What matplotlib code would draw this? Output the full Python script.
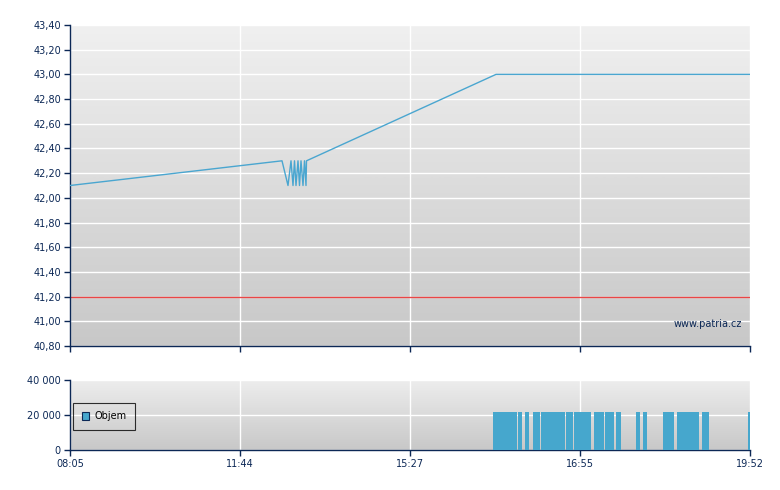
import numpy as np
import matplotlib
matplotlib.use("Agg")
import matplotlib.pyplot as plt
from matplotlib.patches import Rectangle

plt.rcParams['font.family'] = ['DejaVu Sans']

# ---- data (x in session index units) ----
tick_pos = [0, 170, 340, 510, 680]
tick_labels = ["08:05", "11:44", "15:27", "16:55", "19:52"]

price_x = [0, 212, 218, 221, 223, 224.5, 226, 228, 229.5, 231, 233, 234.5, 236, 236.5, 426, 680]
price_y = [42.10, 42.30, 42.10, 42.30, 42.10, 42.30, 42.10, 42.30, 42.10, 42.30, 42.10, 42.30,
           42.10, 42.30, 43.00, 43.00]
ref_price = 41.20

vol_start = [423, 448, 455, 463, 471, 496, 504, 524, 535, 546, 566, 573, 593, 607, 632, 678]
vol_end   = [447, 452, 459, 470, 495, 503, 521, 534, 544, 551, 570, 577, 604, 629, 639, 680]
vol_vals  = [22000] * 16

price_ticks = [40.80, 41.00, 41.20, 41.40, 41.60, 41.80, 42.00, 42.20, 42.40, 42.60,
               42.80, 43.00, 43.20, 43.40]
vol_ticks = [0, 20000, 40000]

NAVY = "#0c2856"
LINE = "#4aa6d0"
BAR = "#46a7cd"
FS = 7

fig = plt.figure(figsize=(7.8, 4.9), dpi=100)
ax = fig.add_axes([70/780, 1-346/490, 680/780, 321/490])
axv = fig.add_axes([70/780, 1-450/490, 680/780, 70/490])

def gradient(a, top, bottom):
    grad = np.linspace(0, 1, 256).reshape(-1, 1)
    c1 = np.array(matplotlib.colors.to_rgb(top))
    c2 = np.array(matplotlib.colors.to_rgb(bottom))
    img = c1[None, None, :] * (1 - grad[..., None]) + c2[None, None, :] * grad[..., None]
    a.imshow(img, extent=[0, 1, 0, 1], transform=a.transAxes, aspect='auto', zorder=0,
             interpolation='bicubic')

for a in (ax, axv):
    a.set_xlim(tick_pos[0], tick_pos[-1])
    for s in ('top', 'right'):
        a.spines[s].set_visible(False)
    for s in ('left', 'bottom'):
        a.spines[s].set_color(NAVY)
        a.spines[s].set_linewidth(1.0)
    a.tick_params(colors=NAVY, labelcolor=NAVY, labelsize=FS, length=4, width=1, direction='out',
                  pad=2.5)
    a.set_xticks(tick_pos)
    a.grid(True, color='white', linewidth=1.0, zorder=1)
    a.set_axisbelow(True)

gradient(ax, "#f0f0f0", "#c8c8c8")
gradient(axv, "#ededed", "#c8c8c8")

# price panel
ax.set_ylim(40.80, 43.40)
ax.set_yticks(price_ticks)
ax.set_yticklabels([f"{v:.2f}".replace('.', ',') for v in price_ticks])
ax.set_xticklabels([])
ax.plot(price_x, price_y, color=LINE, linewidth=1.0, zorder=3)
ax.axhline(ref_price, color="#ea4545", linewidth=1.0, zorder=2)
ax.text(0.988, 0.07, "www.patria.cz", transform=ax.transAxes, ha='right', va='center',
        color=NAVY, fontsize=FS, zorder=4)

# volume panel
axv.set_ylim(0, 40000)
axv.set_yticks(vol_ticks)
axv.set_yticklabels(["0", "20 000", "40 000"])
axv.set_xticklabels(tick_labels)
widths = [e - s for s, e in zip(vol_start, vol_end)]
axv.bar(vol_start, vol_vals, width=widths, align='edge', color=BAR, linewidth=0, zorder=3)

# legend box
leg = axv.legend([Rectangle((0, 0), 1, 1, facecolor=BAR, edgecolor=NAVY, linewidth=0.8)],
                 ["Objem"], loc='center left', bbox_to_anchor=(0.002, 0.48),
                 frameon=True, fontsize=FS, handlelength=0.75, handleheight=0.75,
                 handletextpad=0.55, borderpad=0.85, borderaxespad=0.2, fancybox=False)
leg.get_frame().set_edgecolor('black')
leg.get_frame().set_facecolor('none')
leg.get_frame().set_linewidth(0.8)

fig.savefig("out.png", dpi=100)
